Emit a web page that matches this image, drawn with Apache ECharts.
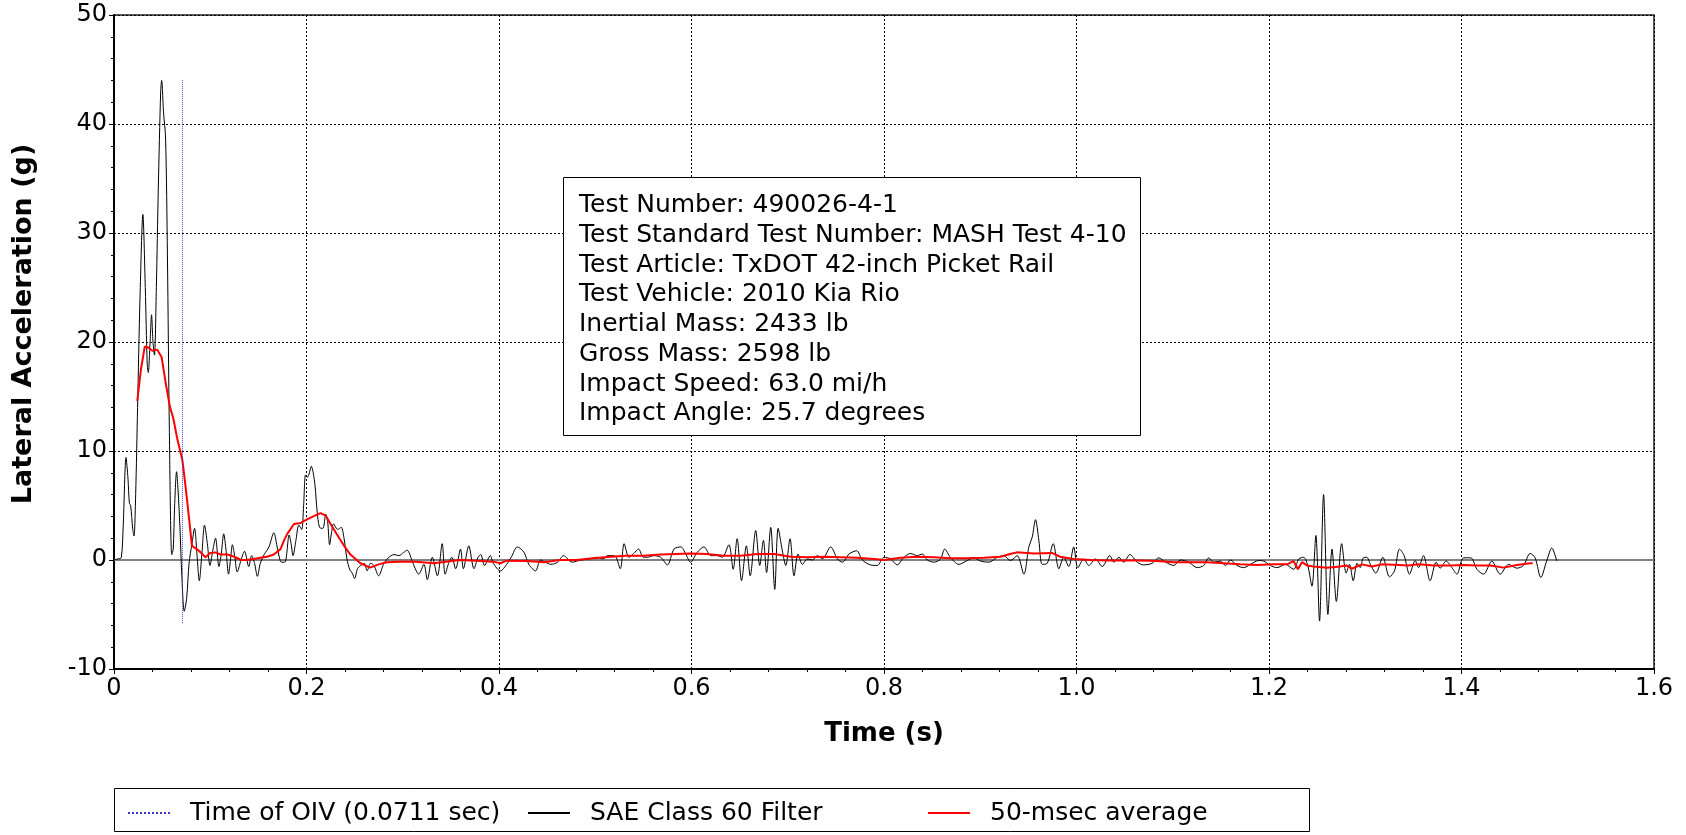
<!DOCTYPE html>
<html>
<head>
<meta charset="utf-8">
<script src="https://cdn.jsdelivr.net/npm/echarts@6/dist/echarts.min.js"></script>
<style>
html,body{margin:0;padding:0;background:#ffffff;}
#chart{width:1686px;height:835px;}
</style>
</head>
<body>
<div id="chart"></div>
<script>
// ---------------- data ----------------
const seriesNames = ['Time of OIV (0.0711 sec)', 'SAE Class 60 Filter', '50-msec average'];
const xAxisTitle = 'Time (s)';
const yAxisTitle = 'Lateral Acceleration (g)';
const xRange = [0, 1.6];
const yRange = [-10, 50];
const xStep = 0.2;
const yStep = 10;

const oivTime = 0.0711;
const oivSpan = [-5.8, 44.1];

const infoLines = [
  'Test Number: 490026-4-1',
  'Test Standard Test Number: MASH Test 4-10',
  'Test Article: TxDOT 42-inch Picket Rail',
  'Test Vehicle: 2010 Kia Rio',
  'Inertial Mass: 2433 lb',
  'Gross Mass: 2598 lb',
  'Impact Speed: 63.0 mi/h',
  'Impact Angle: 25.7 degrees'
];

// SAE Class 60 filtered lateral acceleration [time s, g]
const saeData = [
[0,0],[0.004,0.1],[0.0075,0.2],[0.0095,3],[0.0125,9.4],[0.0145,7.5],[0.016,5.2],[0.0173,5.0],[0.0195,2.8],[0.0208,2.2],
[0.0225,6],[0.0245,14],[0.027,24],[0.030,31.7],[0.0325,25],[0.0345,18],[0.0356,17.2],[0.0375,20],[0.039,22.5],[0.0405,20],
[0.042,18.8],[0.044,25],[0.046,34],[0.0485,43],[0.0495,44.0],[0.0515,41],[0.0536,38.7],[0.0555,28],[0.0575,12],[0.060,0.5],
[0.0615,1],[0.063,5],[0.065,8.1],[0.0665,6.5],[0.0685,3],[0.0705,-1.5],[0.073,-4.7],[0.0755,-3.5],[0.078,-0.3],[0.081,1.5],
[0.0837,2.9],[0.0862,0.5],[0.0886,-1.9],[0.0915,0.8],[0.094,3.2],[0.097,1.5],[0.0997,-0.5],[0.1025,0.8],[0.1055,2.0],[0.109,-0.6],
[0.1115,0.6],[0.114,2.4],[0.1165,0.8],[0.119,-1.3],[0.121,0],[0.123,1.4],[0.1255,0.3],[0.128,-1.1],[0.132,0],[0.1356,0.8],
[0.140,-0.6],[0.143,0.4],[0.146,-0.3],[0.149,-1.5],[0.152,-0.3],[0.156,0.5],[0.161,1.2],[0.166,2.5],[0.170,1.0],[0.174,-0.2],
[0.1775,-0.2],[0.182,2.3],[0.184,1.5],[0.186,0.4],[0.189,1.8],[0.192,3.2],[0.195,2.8],[0.197,5],[0.199,7.8],[0.201,7.6],
[0.203,8.0],[0.205,8.6],[0.207,8.0],[0.209,6.7],[0.211,4.5],[0.2135,3.0],[0.217,2.9],[0.220,4.2],[0.222,3.5],[0.224,1.4],
[0.226,2.5],[0.228,3.3],[0.2325,2.8],[0.236,3.0],[0.239,2.0],[0.242,0.1],[0.245,-0.9],[0.2475,-1.2],[0.250,-1.7],[0.253,-0.8],
[0.2564,-0.5],[0.260,-0.3],[0.263,-1.0],[0.2665,-0.3],[0.270,-0.5],[0.275,-1.45],[0.280,-0.4],[0.285,0.2],[0.291,0.5],[0.296,0.4],
[0.301,0.7],[0.3045,0.9],[0.3097,-0.06],[0.313,-0.8],[0.3166,-1.3],[0.322,-0.4],[0.3255,-1.8],[0.3307,0.25],[0.336,-1.45],[0.341,1.5],
[0.344,-1.3],[0.348,-0.2],[0.351,0.25],[0.355,-0.8],[0.360,1.0],[0.363,-0.8],[0.3686,1.3],[0.374,-0.8],[0.378,0.2],[0.381,0.5],
[0.385,-0.5],[0.391,0.4],[0.394,-0.3],[0.4015,-1.0],[0.408,-0.4],[0.413,0.3],[0.419,1.2],[0.426,0.7],[0.431,-0.4],[0.438,-1.0],
[0.443,0],[0.448,-0.2],[0.454,-0.4],[0.461,-0.2],[0.467,0.4],[0.476,-0.2],[0.485,0],[0.494,0.1],[0.502,0.25],[0.508,0.1],
[0.513,0.4],[0.520,0.4],[0.526,-0.8],[0.530,1.5],[0.535,0.25],[0.540,0.6],[0.545,1.0],[0.550,0.25],[0.554,0.25],[0.561,0.4],
[0.568,0.25],[0.575,-0.45],[0.5818,1.0],[0.589,1.2],[0.594,0.55],[0.599,-0.2],[0.6059,0.7],[0.613,1.2],[0.620,0.4],[0.627,0.4],
[0.632,0.25],[0.6388,1.4],[0.6433,-0.85],[0.6474,1.95],[0.652,-1.9],[0.657,1.3],[0.661,-1.45],[0.6667,2.7],[0.6709,-0.5],[0.6747,1.8],
[0.678,-1.15],[0.6823,3.0],[0.6865,-2.7],[0.690,2.9],[0.6944,0.85],[0.6979,-0.5],[0.7024,1.95],[0.7065,-1.45],[0.7107,0.55],[0.7152,-0.4],
[0.7204,0.1],[0.7256,0],[0.7308,0.4],[0.736,0.1],[0.7446,1.2],[0.7516,0.1],[0.7568,-0.2],[0.7637,0.55],[0.7716,0.85],[0.7775,0],
[0.786,-0.45],[0.793,-0.5],[0.800,0.25],[0.8068,0.1],[0.8137,-0.45],[0.8207,0.25],[0.8276,0.6],[0.8345,0.4],[0.8397,0.55],[0.845,0],
[0.8519,-0.2],[0.8588,0.1],[0.863,1.0],[0.869,0.25],[0.8778,-0.4],[0.8864,-0.05],[0.8934,0.2],[0.9003,-0.1],[0.909,-0.2],[0.9176,0.25],
[0.9245,0.4],[0.9314,-0.05],[0.9384,0.4],[0.9453,-1.3],[0.9505,1.2],[0.954,2.1],[0.9574,3.7],[0.9609,1.8],[0.9644,-0.4],[0.9696,-0.3],
[0.9758,1.5],[0.9817,-0.8],[0.9867,0.25],[0.992,-0.6],[0.9971,1.2],[1.0014,-0.7],[1.0076,0.1],[1.0128,-0.5],[1.0197,0.1],[1.0267,-0.6],
[1.0346,0.4],[1.0388,-0.2],[1.044,0.25],[1.049,-0.2],[1.0555,0.5],[1.063,-0.2],[1.070,-0.45],[1.0786,-0.3],[1.0855,0.2],[1.0925,-0.2],
[1.101,-0.5],[1.108,0],[1.1167,-0.2],[1.1253,-0.7],[1.1322,-0.5],[1.1374,0.2],[1.1426,-0.2],[1.1495,-0.1],[1.1547,-0.5],[1.160,0],
[1.1668,-0.5],[1.1737,-0.7],[1.1806,-0.4],[1.1893,-0.05],[1.1945,-0.1],[1.2014,-0.5],[1.2083,-0.7],[1.217,-0.4],[1.2256,-0.85],[1.231,0.1],
[1.236,0.25],[1.2405,-0.6],[1.2446,-2.4],[1.2487,2.25],[1.2525,-5.6],[1.2567,6.0],[1.2612,-5.0],[1.2655,1.0],[1.270,-3.8],[1.2755,1.5],
[1.2802,-1.2],[1.2836,-0.4],[1.2875,-1.9],[1.2915,-0.3],[1.2947,-0.7],[1.298,0.2],[1.3015,0.25],[1.3056,-0.45],[1.311,-1.2],[1.3183,0.25],
[1.3252,-1.55],[1.3304,-1.0],[1.3356,1.0],[1.3404,0.4],[1.346,-1.3],[1.3519,-0.05],[1.3553,-0.7],[1.3605,0.4],[1.3674,-1.9],[1.3737,-0.2],
[1.3778,-0.75],[1.384,-0.1],[1.390,-0.7],[1.3952,-1.3],[1.4021,0.2],[1.4097,0.2],[1.416,-0.85],[1.4229,-1.3],[1.4315,-0.1],[1.4402,-1.3],
[1.4489,-0.4],[1.4575,-0.75],[1.4644,-0.5],[1.4713,0.6],[1.4765,0.2],[1.4824,-1.6],[1.4886,-0.05],[1.4938,1.1],[1.499,-0.1]
];

// 50-msec moving average [time s, g]
const avgData = [
[0.0242,14.6],[0.028,17.5],[0.032,19.6],[0.0356,19.5],[0.0398,19.2],[0.045,19.3],[0.0495,18.6],[0.0536,16.3],[0.058,14.1],[0.0616,13],
[0.066,11],[0.071,9.2],[0.0744,6.7],[0.078,3.8],[0.081,1.3],[0.086,1.0],[0.090,0.7],[0.095,0.25],[0.100,0.65],[0.105,0.7],
[0.111,0.5],[0.118,0.5],[0.125,0.3],[0.132,0],[0.138,0],[0.145,0.1],[0.152,0.2],[0.159,0.3],[0.166,0.5],[0.173,1.0],
[0.1767,1.8],[0.180,2.4],[0.187,3.3],[0.194,3.4],[0.200,3.7],[0.207,4.0],[0.2145,4.3],[0.2197,4.1],[0.225,3.3],[0.232,2.3],
[0.239,1.3],[0.2457,0.5],[0.256,-0.3],[0.266,-0.7],[0.275,-0.4],[0.2834,-0.2],[0.2973,-0.15],[0.314,-0.15],[0.332,-0.3],[0.345,-0.15],
[0.359,0],[0.376,-0.06],[0.394,-0.15],[0.4015,-0.3],[0.408,-0.06],[0.429,-0.1],[0.447,-0.2],[0.463,0],[0.480,0],[0.498,0.15],
[0.516,0.3],[0.532,0.4],[0.550,0.4],[0.568,0.5],[0.599,0.6],[0.616,0.55],[0.6336,0.4],[0.651,0.4],[0.6685,0.55],[0.686,0.55],
[0.703,0.3],[0.7204,0.25],[0.738,0.3],[0.755,0.25],[0.7724,0.2],[0.7897,0.1],[0.800,0],[0.817,0.2],[0.8345,0.3],[0.852,0.25],
[0.869,0.15],[0.886,0.15],[0.904,0.2],[0.921,0.3],[0.931,0.55],[0.938,0.7],[0.9557,0.6],[0.9746,0.65],[0.983,0.3],[0.997,0.1],
[1.0145,0],[1.032,-0.05],[1.049,-0.05],[1.066,-0.05],[1.0838,-0.1],[1.101,-0.2],[1.1184,-0.2],[1.1357,-0.2],[1.153,-0.3],[1.170,-0.4],
[1.1876,-0.45],[1.205,-0.4],[1.2187,-0.4],[1.2256,-0.1],[1.230,-0.85],[1.2342,-0.2],[1.2394,-0.5],[1.2464,-0.6],[1.2602,-0.7],[1.274,-0.6],
[1.2805,-0.5],[1.286,-0.8],[1.2965,-0.4],[1.3069,-0.6],[1.3173,-0.4],[1.3346,-0.45],[1.345,-0.5],[1.3553,-0.4],[1.3712,-0.5],[1.3885,-0.5],
[1.4021,-0.45],[1.416,-0.5],[1.430,-0.5],[1.4437,-0.7],[1.4575,-0.45],[1.4713,-0.3],[1.474,-0.3]
];

// ---------------- chart ----------------
const FONT = 'DejaVu Sans';
const chart = echarts.init(document.getElementById('chart'), null, {renderer: 'canvas'});

function legendFor(name, left) {
  return {
    data: [name],
    left: left,
    top: 799,
    padding: 0,
    itemWidth: 42,
    itemHeight: 12,
    selectedMode: false,
    itemStyle: {opacity: 0, borderWidth: 0},
    textStyle: {fontFamily: FONT, fontSize: 25, color: '#000', lineHeight: 28, padding: [0, 0, 0, 15]}
  };
}

const option = {
  animation: false,
  backgroundColor: '#ffffff',
  grid: {left: 114, right: 32, top: 15, bottom: 166, show: true, borderColor: '#222', borderWidth: 1.5, backgroundColor: 'transparent'},
  legend: [
    legendFor(seriesNames[0], 127),
    legendFor(seriesNames[1], 527),
    legendFor(seriesNames[2], 927)
  ],
  xAxis: {
    type: 'value', min: xRange[0], max: xRange[1], interval: xStep,
    name: xAxisTitle, nameLocation: 'middle', nameGap: 52,
    nameTextStyle: {fontFamily: FONT, fontWeight: 'bold', fontSize: 26, color: '#000'},
    axisLine: {show: true, onZero: false, lineStyle: {color: '#000', width: 2}},
    axisTick: {show: true, length: 5, lineStyle: {color: '#000', width: 1}},
    minorTick: {show: true, splitNumber: 5, length: 3, lineStyle: {color: '#000', width: 1}},
    axisLabel: {fontFamily: FONT, fontSize: 24, color: '#000', margin: 8,
      formatter: v => (Math.abs(v) < 1e-9 ? '0' : v.toFixed(1))},
    splitLine: {show: true, lineStyle: {color: '#000', width: 1, type: [2, 2]}}
  },
  yAxis: {
    type: 'value', min: yRange[0], max: yRange[1], interval: yStep,
    axisLine: {show: true, onZero: false, lineStyle: {color: '#000', width: 2}},
    axisTick: {show: true, length: 5, lineStyle: {color: '#000', width: 1}},
    minorTick: {show: true, splitNumber: 5, length: 3, lineStyle: {color: '#000', width: 1}},
    axisLabel: {fontFamily: FONT, fontSize: 24, color: '#000', margin: 7},
    splitLine: {show: true, lineStyle: {color: '#000', width: 1, type: [2, 2]}}
  },
  graphic: [
    {
      type: 'text', x: 24, y: 324, rotation: Math.PI / 2, z: 20,
      style: {text: yAxisTitle, font: 'bold 27px "DejaVu Sans"', fill: '#000', align: 'center', verticalAlign: 'middle'}
    },
    {
      type: 'rect', z: 20,
      shape: {x: 563.5, y: 177.5, width: 577, height: 258},
      style: {fill: '#ffffff', stroke: '#000', lineWidth: 1}
    },
    {
      type: 'text', x: 579, y: 191, z: 21,
      style: {text: infoLines.join('\n'), font: '25px "DejaVu Sans"', lineHeight: 29.7, fill: '#000', align: 'left', verticalAlign: 'top'}
    },
    {
      type: 'rect', z: 20,
      shape: {x: 114.5, y: 788.5, width: 1195, height: 43},
      style: {fill: 'none', stroke: '#000', lineWidth: 1}
    }
  ],
  series: [
    {
      name: 'zero', type: 'line', silent: true, z: 1, symbol: 'none',
      data: [[xRange[0], 0], [xRange[1], 0]],
      lineStyle: {color: '#808080', width: 2}
    },
    {
      name: seriesNames[1], type: 'line', z: 3, symbol: 'none', showSymbol: false, smooth: 0.3,
      data: saeData,
      itemStyle: {color: '#000'},
      lineStyle: {color: '#000', width: 1}
    },
    {
      name: seriesNames[2], type: 'line', z: 4, symbol: 'none', showSymbol: false,
      data: avgData,
      itemStyle: {color: '#ff0000'},
      lineStyle: {color: '#ff0000', width: 2}
    },
    {
      name: seriesNames[0], type: 'line', z: 5, symbol: 'none', showSymbol: false,
      data: [[oivTime, oivSpan[0]], [oivTime, oivSpan[1]]],
      itemStyle: {color: '#3c3cc8'},
      lineStyle: {color: '#3c3cc8', width: 1, type: 'dotted'}
    }
  ]
};
chart.setOption(option);
</script>
</body>
</html>
